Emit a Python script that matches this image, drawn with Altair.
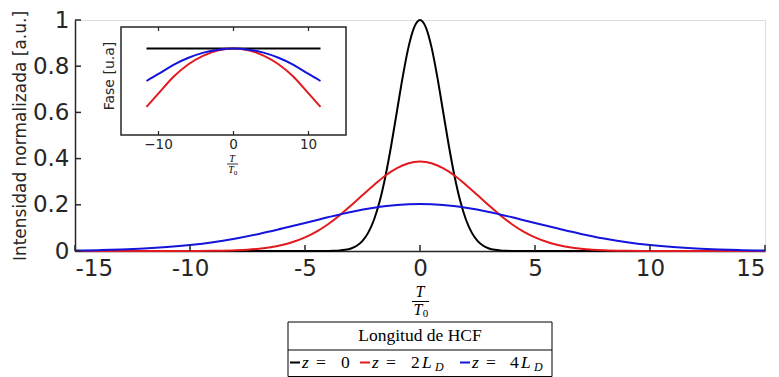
import altair as alt
import pandas as pd

# ---- pulse intensity profiles (normalised time T/T0) ----
black_t = [-15, -4, -3.75, -3.5, -3.25, -3, -2.75, -2.5, -2.25, -2, -1.75, -1.5, -1.25, -1,
           -0.75, -0.5, -0.25, 0, 0.25, 0.5, 0.75, 1, 1.25, 1.5, 1.75, 2, 2.25, 2.5, 2.75,
           3, 3.25, 3.5, 3.75, 4, 15]
black_i = [0, 0.0003, 0.0009, 0.0022, 0.0051, 0.0111, 0.0228, 0.0439, 0.0796, 0.1353, 0.2163,
           0.3247, 0.4578, 0.6065, 0.7548, 0.8825, 0.969, 1.0, 0.969, 0.8825, 0.7548, 0.6065,
           0.4578, 0.3247, 0.2163, 0.1353, 0.0796, 0.0439, 0.0228, 0.0111, 0.0051, 0.0022,
           0.0009, 0.0003, 0]

red_t = [-15, -10, -9, -8, -7.5, -7, -6.5, -6, -5.5, -5, -4.5, -4, -3.5, -3, -2.5, -2, -1.5,
         -1, -0.5, 0, 0.5, 1, 1.5, 2, 2.5, 3, 3.5, 4, 4.5, 5, 5.5, 6, 6.5, 7, 7.5, 8, 9, 10, 15]
red_i = [0, 0.0002, 0.0009, 0.0031, 0.0056, 0.0097, 0.016, 0.026, 0.040, 0.059, 0.084, 0.116,
         0.154, 0.197, 0.242, 0.286, 0.327, 0.359, 0.380, 0.387, 0.380, 0.359, 0.327, 0.286,
         0.242, 0.197, 0.154, 0.116, 0.084, 0.059, 0.040, 0.026, 0.016, 0.0097, 0.0056,
         0.0031, 0.0009, 0.0002, 0]

blue_t = [-15, -14, -13, -12, -11, -10, -9, -8, -7, -6, -5, -4, -3, -2, -1, 0,
          1, 2, 3, 4, 5, 6, 7, 8, 9, 10, 11, 12, 13, 14, 15]
blue_i = [0.002, 0.0036, 0.0063, 0.0105, 0.017, 0.026, 0.038, 0.054, 0.074, 0.097, 0.121,
          0.146, 0.169, 0.187, 0.199, 0.203, 0.199, 0.187, 0.169, 0.146, 0.121, 0.097, 0.074,
          0.054, 0.038, 0.026, 0.017, 0.0105, 0.0063, 0.0036, 0.002]

# ---- phase profiles for the inset ----
phase_t = [-11.6, -10, -8, -6, -4, -2, 0, 2, 4, 6, 8, 10, 11.6]
phase_black = [0.8] * 13
phase_red = [0.26, 0.385, 0.54, 0.655, 0.735, 0.785, 0.80, 0.785, 0.735, 0.655, 0.54, 0.385, 0.26]
phase_blue = [0.50, 0.565, 0.65, 0.715, 0.763, 0.79, 0.80, 0.79, 0.763, 0.715, 0.65, 0.565, 0.50]

series = ["z0", "z2", "z4"]
colors = ["#000000", "#e3191f", "#1414dc"]

x_ticks = [-15, -10, -5, 0, 5, 10, 15]
y_ticks = [0, 0.2, 0.4, 0.6, 0.8, 1]
inset_ticks = [-10, 0, 10]

W, H = 690, 231
L0, T0 = 75, 20           # plot origin on the page
AXC = "#262626"
SANS = "DejaVu Sans"
SERIF = "Liberation Serif"

main_df = pd.concat([
    pd.DataFrame({"t": black_t, "I": black_i, "s": "z0"}),
    pd.DataFrame({"t": red_t, "I": red_i, "s": "z2"}),
    pd.DataFrame({"t": blue_t, "I": blue_i, "s": "z4"}),
])
phase_df = pd.concat([
    pd.DataFrame({"u": phase_t, "p": phase_black, "s": "z0"}),
    pd.DataFrame({"u": phase_t, "p": phase_red, "s": "z2"}),
    pd.DataFrame({"u": phase_t, "p": phase_blue, "s": "z4"}),
])

xs = alt.Scale(domain=[-15, 15], nice=False, zero=False)
ys = alt.Scale(domain=[0, 1], nice=False)
cs = alt.Scale(domain=series, range=colors)

curves = alt.Chart(main_df).mark_line(strokeWidth=2, interpolate="monotone").encode(
    x=alt.X("t:Q", scale=xs, axis=alt.Axis(
        values=x_ticks, labelExpr="'' + datum.value", ticks=False, grid=False,
        domainColor=AXC, domainWidth=1.5, labelColor=AXC, labelFont=SANS,
        labelFontSize=23, labelPadding=6, title=None)),
    y=alt.Y("I:Q", scale=ys, axis=alt.Axis(
        values=y_ticks, labelExpr="'' + datum.value", ticks=False, grid=False,
        domainColor=AXC, domainWidth=1.5, labelColor=AXC, labelFont=SANS,
        labelFontSize=23, labelPadding=6,
        title="Intensidad normalizada [a.u.]", titleFont=SANS, titleFontSize=17,
        titleFontWeight="normal", titleColor=AXC, titleX=-55, titleY=H / 2,
        titleAlign="center", titleBaseline="middle", titleAngle=270)),
    color=alt.Color("s:N", scale=cs, legend=None),
    detail="s:N",
)

xtick_df = pd.DataFrame({"t": x_ticks})
ytick_df = pd.DataFrame({"I": y_ticks})
xtick_marks = alt.Chart(xtick_df).mark_rule(color=AXC, strokeWidth=1.5).encode(
    x=alt.X("t:Q", scale=xs), y=alt.value(H), y2=alt.value(H - 6))
ytick_marks = alt.Chart(ytick_df).mark_rule(color=AXC, strokeWidth=1.5).encode(
    y=alt.Y("I:Q", scale=ys), x=alt.value(0), x2=alt.value(6))

main = alt.layer(curves, xtick_marks, ytick_marks)

# ---- inset: phase vs T/T0 ----
IX0, IX1, IY0, IY1 = 121 - L0, 346 - L0, 27 - T0, 135 - T0
ixs = alt.Scale(domain=[-15, 15], range=[IX0, IX1], nice=False, zero=False)
iys = alt.Scale(domain=[0, 1], range=[IY1, IY0], nice=False)

one = alt.Data(values=[{}])

frame = alt.Chart(one).mark_rect(fill="white", stroke=AXC, strokeWidth=1.5).encode(
    x=alt.value(IX0), x2=alt.value(IX1), y=alt.value(IY0), y2=alt.value(IY1))
phase_lines = alt.Chart(phase_df).mark_line(strokeWidth=2, interpolate="monotone").encode(
    x=alt.X("u:Q", scale=ixs, axis=None),
    y=alt.Y("p:Q", scale=iys, axis=None),
    color=alt.Color("s:N", scale=cs, legend=None),
    detail="s:N",
)
itick_df = pd.DataFrame({"u": inset_ticks})
itick_bottom = alt.Chart(itick_df).mark_rule(color=AXC, strokeWidth=1.2).encode(
    x=alt.X("u:Q", scale=ixs, axis=None), y=alt.value(IY1), y2=alt.value(IY1 - 4))
itick_top = alt.Chart(itick_df).mark_rule(color=AXC, strokeWidth=1.2).encode(
    x=alt.X("u:Q", scale=ixs, axis=None), y=alt.value(IY0), y2=alt.value(IY0 + 4))
itick_labels = alt.Chart(itick_df).mark_text(
    font=SANS, fontSize=13.5, color=AXC, baseline="middle", align="center"
).encode(x=alt.X("u:Q", scale=ixs, axis=None), y=alt.value(145 - T0),
         text=alt.Text("u:Q", format="d"))

inset = alt.layer(frame, phase_lines, itick_bottom, itick_top, itick_labels)


def txt(text, x, y, size, font=SERIF, style="normal", align="center",
        baseline="middle", angle=0, color="#000000"):
    return alt.Chart(one).mark_text(
        text=text, font=font, fontSize=size, fontStyle=style, align=align,
        baseline=baseline, angle=angle, color=color
    ).encode(x=alt.value(x - L0), y=alt.value(y - T0))


def hline(x0, x1, y, color="#000000", width=1.0):
    return alt.Chart(one).mark_rule(color=color, strokeWidth=width).encode(
        x=alt.value(x0 - L0), x2=alt.value(x1 - L0), y=alt.value(y - T0))


deco = [
    # inset labels
    txt("Fase [u.a]", 110, 76, 14, font=SANS, angle=270, color=AXC),
    txt("T", 232, 159, 10, style="italic"),
    hline(227, 238, 164, width=0.8),
    txt("T", 231, 170, 10, style="italic"),
    txt("0", 235.5, 172.5, 7),
    # main x-axis title T / T0
    txt("T", 420, 292, 16, style="italic"),
    hline(412, 429, 301.5, width=1),
    txt("T", 418, 309.5, 16, style="italic"),
    txt("0", 425.5, 313.5, 11),
    # legend box
    alt.Chart(one).mark_rect(fill="white", stroke="#000000", strokeWidth=1).encode(
        x=alt.value(288 - L0), x2=alt.value(552 - L0),
        y=alt.value(322 - T0), y2=alt.value(376.5 - T0)),
    hline(288, 552, 350),
    txt("Longitud de HCF", 420, 336, 17.5),
]

row = 362.5
for x0, col in zip([290, 360, 460], colors):
    deco.append(hline(x0, x0 + 10, row, color=col, width=2))
for zx, ex, nx, num, lx in [(302, 316, 341, "0", None),
                            (372, 386, 411, "2", 422),
                            (472, 486, 510, "4", 521)]:
    deco.append(txt("z", zx, row, 17.5, style="italic", align="left"))
    deco.append(txt("=", ex, row, 17.5, align="left"))
    deco.append(txt(num, nx, row, 17.5, align="left"))
    if lx is not None:
        deco.append(txt("L", lx, row, 17.5, style="italic", align="left"))
        deco.append(txt("D", lx + 13, row + 4, 12, style="italic", align="left"))

chart = alt.layer(main, inset, *deco).resolve_scale(
    x="independent", y="independent"
).properties(
    width=W, height=H,
    autosize=alt.AutoSizeParams(type="none"),
    padding={"left": L0, "top": T0, "right": 779 - L0 - W, "bottom": 377 - T0 - H},
).configure_view(stroke=None).configure(background="white")

chart.save("out.html", embed_options={"renderer": "svg", "actions": False})
